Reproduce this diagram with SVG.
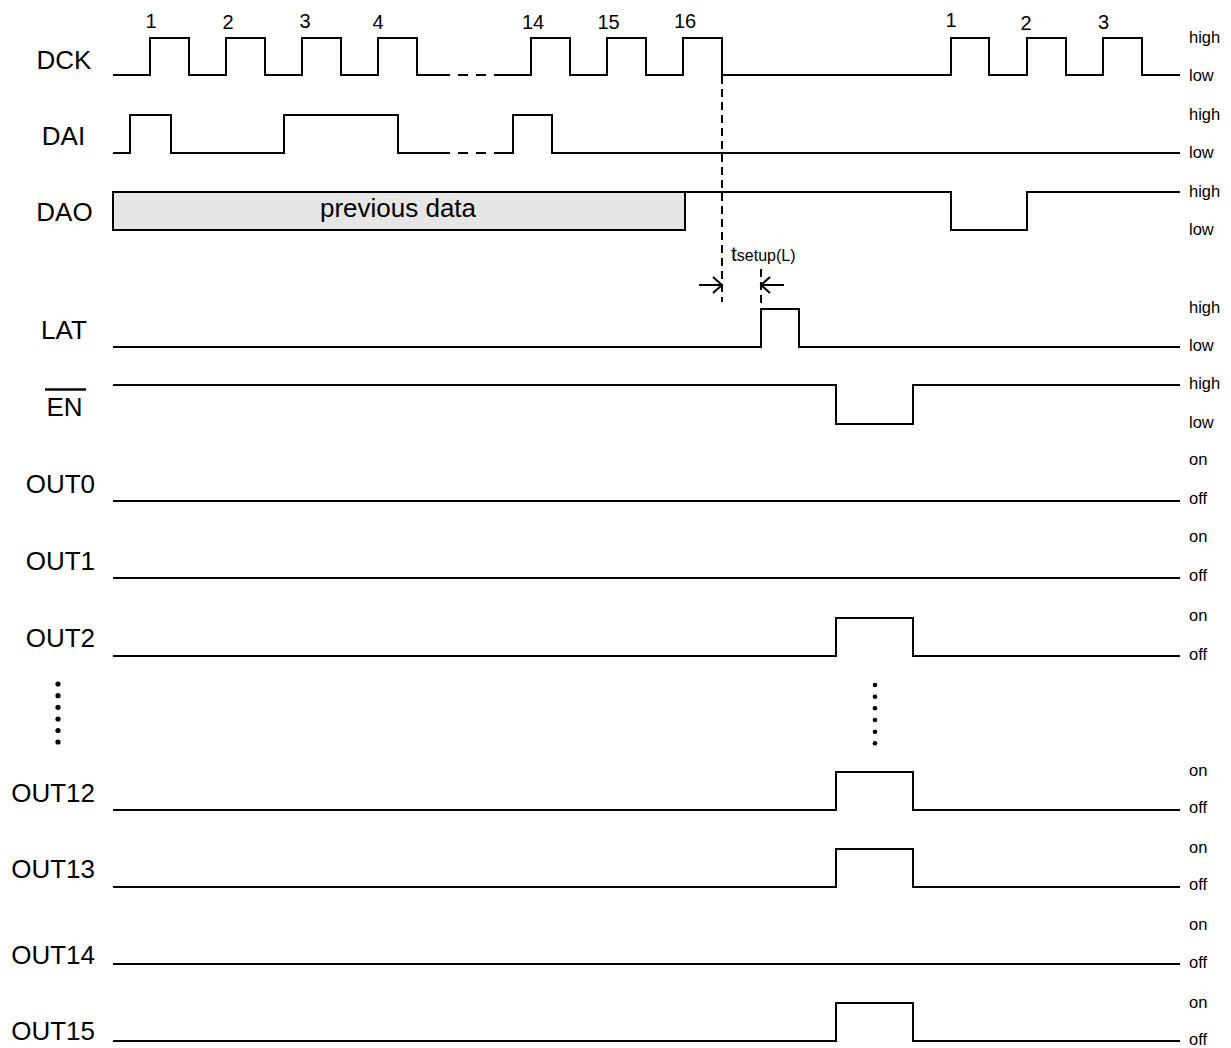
<svg xmlns="http://www.w3.org/2000/svg" width="1231" height="1048" viewBox="0 0 1231 1048">
<style>
.w{fill:none;stroke:#000;stroke-width:2;stroke-linejoin:miter;stroke-linecap:butt}
.d{fill:none;stroke:#000;stroke-width:2;stroke-dasharray:8,5}
.lbl{font-family:"Liberation Sans",Arial,sans-serif;font-size:26px;fill:#000}
.lv{font-family:"Liberation Sans",Arial,sans-serif;font-size:16.5px;fill:#000}
.num{font-family:"Liberation Sans",Arial,sans-serif;font-size:20px;fill:#000;text-anchor:middle}
</style>
<rect width="1231" height="1048" fill="#fff"/>
<g id="labels" class="lbl">
<text x="64" y="69" text-anchor="middle">DCK</text>
<text x="63.5" y="145" text-anchor="middle">DAI</text>
<text x="64.5" y="221" text-anchor="middle">DAO</text>
<text x="64" y="339" text-anchor="middle">LAT</text>
<text x="64.5" y="416" text-anchor="middle">EN</text>
<text x="95" y="493" text-anchor="end">OUT0</text>
<text x="95" y="570" text-anchor="end">OUT1</text>
<text x="95" y="647" text-anchor="end">OUT2</text>
<text x="95" y="802" text-anchor="end">OUT12</text>
<text x="95" y="878" text-anchor="end">OUT13</text>
<text x="95" y="964" text-anchor="end">OUT14</text>
<text x="95" y="1040" text-anchor="end">OUT15</text>
</g>
<line x1="45" y1="389.5" x2="86" y2="389.5" stroke="#000" stroke-width="2.5"/>
<g id="levels" class="lv">
<text x="1189" y="43">high</text><text x="1189" y="81">low</text>
<text x="1189" y="120">high</text><text x="1189" y="158">low</text>
<text x="1189" y="197">high</text><text x="1189" y="235">low</text>
<text x="1189" y="313">high</text><text x="1189" y="351">low</text>
<text x="1189" y="389">high</text><text x="1189" y="428">low</text>
<text x="1189" y="465">on</text><text x="1189" y="504">off</text>
<text x="1189" y="542">on</text><text x="1189" y="581">off</text>
<text x="1189" y="621">on</text><text x="1189" y="660">off</text>
<text x="1189" y="776">on</text><text x="1189" y="813">off</text>
<text x="1189" y="853">on</text><text x="1189" y="890">off</text>
<text x="1189" y="930">on</text><text x="1189" y="968">off</text>
<text x="1189" y="1008">on</text><text x="1189" y="1045">off</text>
</g>
<g id="clocknums" class="num">
<text x="151" y="28">1</text><text x="228" y="29">2</text><text x="305" y="27.5">3</text><text x="378" y="28.5">4</text>
<text x="533" y="28.5">14</text><text x="608.5" y="29">15</text><text x="685" y="28">16</text>
<text x="951" y="27">1</text><text x="1026" y="29.5">2</text><text x="1103.5" y="28.5">3</text>
</g>
<g id="DCK">
<polyline class="w" points="113,75 150,75 150,38 189,38 189,75 226,75 226,38 265,38 265,75 302,75 302,38 341,38 341,75 378,75 378,38 417,38 417,75 450,75"/>
<path class="w" d="M458,75H468M476,75H486"/>
<polyline class="w" points="494,75 531,75 531,38 570,38 570,75 607,75 607,38 646,38 646,75 683,75 683,38 722,38 722,75 951,75 951,38 989,38 989,75 1027,75 1027,38 1066,38 1066,75 1103,75 1103,38 1142,38 1142,75 1180,75"/>
</g>
<g id="DAI">
<polyline class="w" points="113,153 130,153 130,115 171,115 171,153 284,153 284,115 398,115 398,153 450,153"/>
<path class="w" d="M458,153H468M476,153H486"/>
<polyline class="w" points="494,153 513,153 513,115 552,115 552,153 1180,153"/>
</g>
<g id="DAO">
<rect x="113" y="192" width="572" height="38" fill="#e6e6e6" stroke="#000" stroke-width="2"/>
<text x="398" y="217" class="lbl" font-size="26.5" text-anchor="middle">previous data</text>
<polyline class="w" points="685,192 951,192 951,230 1027,230 1027,192 1180,192"/>
</g>
<g id="LAT">
<polyline class="w" points="113,347 761,347 761,309 799,309 799,347 1180,347"/>
</g>
<g id="EN">
<polyline class="w" points="113,385 836,385 836,424 913,424 913,385 1180,385"/>
</g>
<g id="OUT0"><polyline class="w" points="113,501 1180,501"/></g>
<g id="OUT1"><polyline class="w" points="113,578 1180,578"/></g>
<g id="OUT2"><polyline class="w" points="113,656 836,656 836,618 913,618 913,656 1180,656"/></g>
<g id="OUT12"><polyline class="w" points="113,810 836,810 836,772 913,772 913,810 1180,810"/></g>
<g id="OUT13"><polyline class="w" points="113,887 836,887 836,849 913,849 913,887 1180,887"/></g>
<g id="OUT14"><polyline class="w" points="113,964 1180,964"/></g>
<g id="OUT15"><polyline class="w" points="113,1041 836,1041 836,1003 913,1003 913,1041 1180,1041"/></g>
<g id="dots" fill="#000">
<circle cx="58" cy="684" r="2.6"/><circle cx="58" cy="695.7" r="2.6"/><circle cx="58" cy="707.3" r="2.6"/><circle cx="58" cy="719" r="2.6"/><circle cx="58" cy="730.5" r="2.6"/><circle cx="58" cy="742" r="2.6"/>
<circle cx="875" cy="685" r="2.3"/><circle cx="875" cy="696.7" r="2.3"/><circle cx="875" cy="708.3" r="2.3"/><circle cx="875" cy="720" r="2.3"/><circle cx="875" cy="731.7" r="2.3"/><circle cx="875" cy="743.3" r="2.3"/>
</g>
<g id="connectors">
<line class="d" x1="722" y1="76" x2="722" y2="302"/>
<line class="d" x1="761" y1="269" x2="761" y2="308"/>
<path class="w" d="M699,285H722M713,277L722,285L713,293"/>
<path class="w" d="M784,285H761M770,277L761,285L770,293"/>
</g>
<g id="tsetup">
<text x="731" y="261" font-family="Liberation Sans,Arial,sans-serif"><tspan font-size="21">t</tspan><tspan font-size="16">setup(L)</tspan></text>
</g>
</svg>
